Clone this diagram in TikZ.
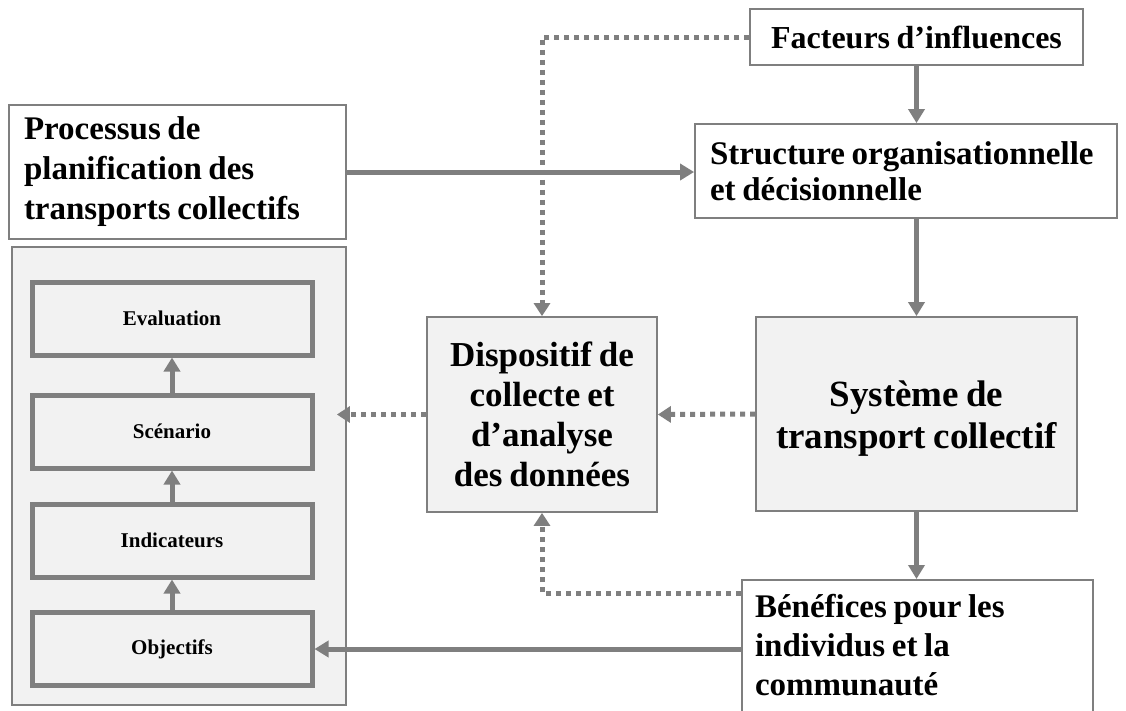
\documentclass[tikz,border=0pt]{standalone}
\usepackage{fontspec}
\setmainfont{Liberation Serif}[WordSpace={0.8,0,0}]
\usetikzlibrary{arrows.meta}
\definecolor{lc}{HTML}{7F7F7F}
\definecolor{fillg}{HTML}{F2F2F2}
\tikzset{
  thinbox/.style={draw=lc, line width=1.8pt, rectangle, inner sep=0pt, font=\bfseries},
  innerbox/.style={draw=lc, line width=5pt, fill=fillg, rectangle, inner sep=0pt,
     minimum width=280, minimum height=73, font=\fontsize{21}{25}\selectfont\bfseries},
  arr/.style={draw=lc, line width=5pt, -{Triangle[length=14pt,width=16pt]}},
  dotarr/.style={draw=lc, line width=5pt, dash pattern=on 5pt off 5pt, -{Triangle[length=13pt,width=16pt]}},
}
\begin{document}
\begin{tikzpicture}[x=1pt,y=-1pt]
\useasboundingbox (0,0) rectangle (1126,710);
\fill[white] (0,0) rectangle (1126,710);
% boxes
\node[thinbox, minimum width=333, minimum height=56, font=\fontsize{32}{36}\selectfont\bfseries] (fact) at (916.5,37) {Facteurs d’influences};
\node[thinbox, minimum width=422, minimum height=94, align=flush left, text width=392, font=\fontsize{33}{36}\selectfont\bfseries] (struct) at (906,171) {Structure organisationnelle\\et décisionnelle};
\node[thinbox, minimum width=337, minimum height=134, align=flush left, text width=307, font=\fontsize{33}{40}\selectfont\bfseries] (proc) at (177.5,172) {Processus de\\planification des\\transports collectifs};
\node[thinbox, fill=fillg, minimum width=334, minimum height=458] (cont) at (179,476) {};
\node[innerbox] (eval) at (172,318.5) {Evaluation};
\node[innerbox] (scen) at (172,431.5) {Scénario};
\node[innerbox] (ind) at (172,540.5) {Indicateurs};
\node[innerbox] (obj) at (172,649) {Objectifs};
\node[thinbox, fill=fillg, minimum width=230, minimum height=195, align=flush center, font=\fontsize{35}{40}\selectfont\bfseries] (disp) at (542,414.5) {Dispositif de\\collecte et\\d’analyse\\des données};
\node[thinbox, fill=fillg, minimum width=321, minimum height=194, align=flush center, text height=76pt, font=\fontsize{37}{42}\selectfont\bfseries] (sys) at (916.5,414) {Système de\\transport collectif};
\node[thinbox, anchor=north, minimum width=351, align=flush left, text width=325, inner xsep=13pt, inner ysep=14pt, text depth=120pt, font=\fontsize{33}{39}\selectfont\bfseries] (ben) at (917.5,579) {Bénéfices pour les\\individus et la\\communauté};
% connectors
\draw[arr] (fact.south) -- (fact.south |- struct.north);
\draw[arr] (sys.north |- struct.south) -- (sys.north);
\draw[arr] (sys.south) -- (sys.south |- ben.north);
\draw[arr] (proc.east) -- (proc.east -| struct.west);
\draw[arr] (obj.east -| ben.west) -- (obj.east);
\draw[arr] (obj.north) -- (ind.south);
\draw[arr] (ind.north) -- (scen.south);
\draw[arr] (scen.north) -- (eval.south);
\draw[dotarr] (fact.west) -| (disp.north);
\draw[dotarr] (sys.west) -- (disp.east);
\coordinate (contin) at ([xshift=-10pt]cont.east);
\draw[dotarr] (disp.west) -- (disp.west -| contin);
\draw[dotarr] (ben.north west) ++(0,14) -| (disp.south);
\end{tikzpicture}
\end{document}
